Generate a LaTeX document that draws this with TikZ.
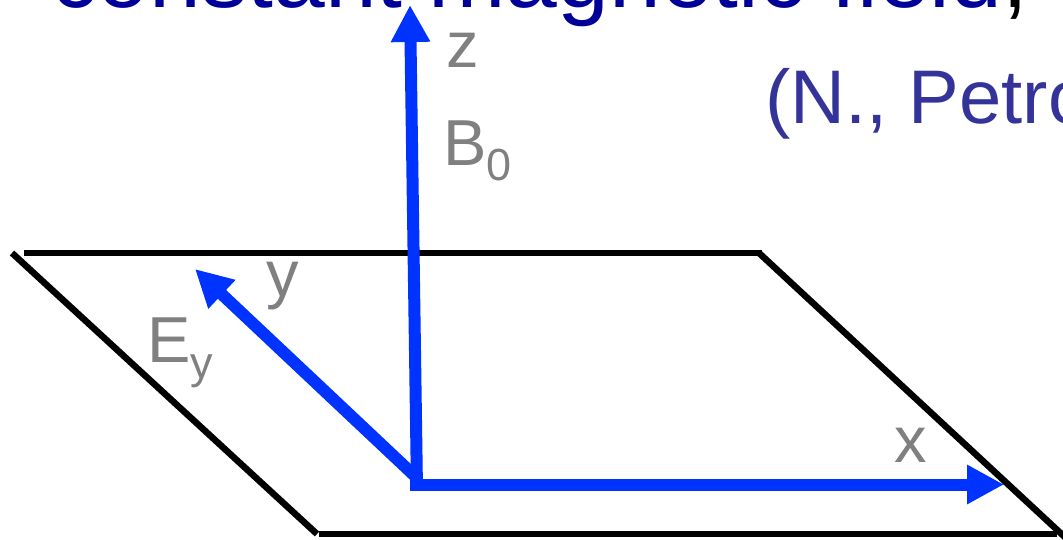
\documentclass[tikz,border=0pt]{standalone}
\usepackage{fontspec}
\setmainfont{Liberation Sans}
\usetikzlibrary{arrows.meta}
\definecolor{axisblue}{RGB}{0,51,255}
\definecolor{titleblue}{RGB}{0,0,153}
\definecolor{refblue}{RGB}{51,51,153}
\definecolor{labelgray}{RGB}{128,128,128}
\begin{document}
\begin{tikzpicture}[x=1pt,y=-1pt,
  plane/.style={draw=black,line width=6.5pt},
  axis/.style={draw=axisblue,line width=12pt,-{Triangle[length=37pt,width=37pt]}},
  lbl/.style={anchor=base west,inner sep=0pt,text=labelgray,font=\fontsize{65}{65}\selectfont},
  sublbl/.style={anchor=base west,inner sep=0pt,text=labelgray,font=\fontsize{45}{45}\selectfont}]
\useasboundingbox (0,0) rectangle (1063,539);
\clip (0,0) rectangle (1063,539);
% plane corners
\coordinate (p1) at (24,253);
\coordinate (p2) at (762,253);
\coordinate (p2b) at (759,253);
\coordinate (p3) at (1068,540);
\coordinate (p4) at (1057,534);
\coordinate (p5) at (319,534);
\coordinate (p6) at (317,534);
\coordinate (p7) at (12,253);
\draw[plane] (p1) -- (p2);
\draw[plane] (p2b) -- (p3);
\draw[plane] (p4) -- (p5);
\draw[plane] (p6) -- (p7);
% axes
\coordinate (oz) at (417,490);
\coordinate (ztip) at (410,5);
\coordinate (ox) at (410,484.5);
\coordinate (xtip) at (1004,484.5);
\coordinate (oy) at (417,478);
\coordinate (ytip) at (195,269);
\draw[axis] (oy) -- (ytip);
\draw[axis] (oz) -- (ztip);
\draw[axis] (ox) -- (xtip);
% title texts
\node[anchor=base west,inner sep=0pt,text=titleblue,font=\fontsize{93}{93}\selectfont] (title) at (51,7) {constant magnetic field\textcolor{black}{,}};
\node[anchor=base west,inner sep=0pt,text=refblue,font=\fontsize{76}{76}\selectfont] (ref) at (765,123) {(N., Petro};
% labels
\node[lbl] (zl) at (446,67) {z};
\node[lbl] (bl) at (443,165) {B};
\node[sublbl] (bsub) at (bl.base east) [yshift=-15pt] {0};
\node[lbl] (yl) at (266,296) {y};
\node[lbl] (el) at (147,362) {E};
\node[sublbl] (esub) at (el.base east) [yshift=-16pt] {y};
\node[lbl] (xl) at (894,462) {x};
\end{tikzpicture}
\end{document}
